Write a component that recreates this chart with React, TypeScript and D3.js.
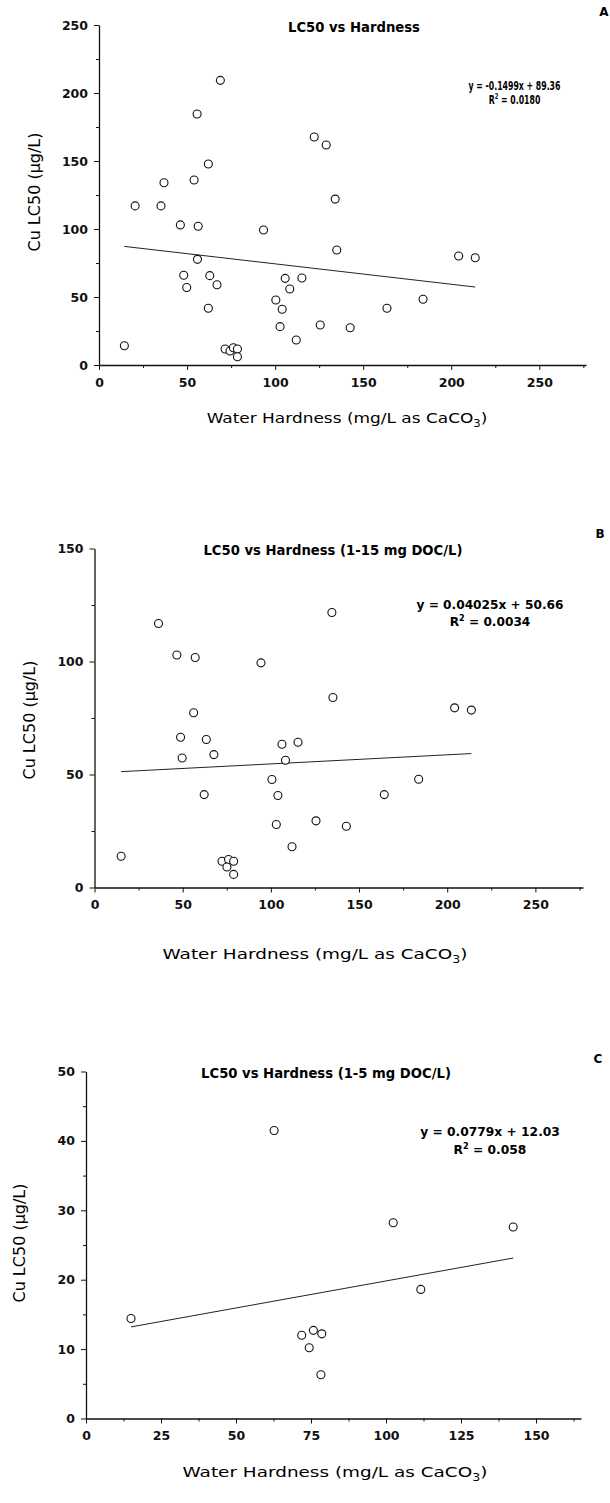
import React, { useEffect, useRef } from "react";
import * as d3 from "d3";

const width = 610;
const height = 1503;

// panel A: all tests
const hardnessA = [
  14.4, 20.5, 35.2, 36.9, 46.2, 48.1, 49.8, 54, 55.7, 56.3, 55.9, 62.1, 62.9,
  62.1, 67, 68.9, 71.6, 74.4, 76.3, 78.6, 78.6, 93.4, 100.4, 104, 102.8, 105.7,
  108.3, 112, 115.2, 122.2, 129, 134.1, 135, 125.6, 142.6, 163.5, 184, 204.2,
  213.6,
];
const lc50A = [
  14.2, 117, 117, 134, 103, 66, 57, 136, 184.6, 102, 77.7, 147.8, 65.7, 41.7,
  59, 209.3, 11.8, 10.3, 12.7, 11.8, 6.1, 99.3, 47.8, 41, 28.2, 63.7, 55.9,
  18.4, 64, 167.6, 161.8, 122, 84.6, 29.4, 27.4, 41.7, 48.3, 80.1, 78.9,
];

// panel B: 1-15 mg DOC/L
const hardnessB = [
  15.1, 36.3, 46.7, 57.1, 56.2, 48.8, 49.7, 63.4, 67.7, 62.2, 94.4, 72.3, 76,
  75.1, 78.9, 78.9, 100.6, 104, 103.1, 106.3, 108.3, 112, 115.4, 134.6, 135.2,
  204.2, 213.7, 183.8, 164.3, 125.6, 142.8,
];
const lc50B = [
  13.8, 116.8, 102.9, 101.8, 77.3, 66.5, 57.3, 65.5, 58.8, 41.1, 99.4, 11.6,
  12.4, 9.1, 11.6, 5.8, 47.8, 40.7, 27.9, 63.4, 56.3, 18, 64.3, 121.7, 84.1,
  79.5, 78.5, 47.9, 41.1, 29.5, 27.1,
];

// panel C: 1-5 mg DOC/L
const hardnessC = [15, 71.9, 75.8, 78.6, 74.4, 78.3, 62.7, 102.4, 111.6, 142.4];
const lc50C = [14.4, 12.0, 12.7, 12.2, 10.2, 6.3, 41.5, 28.2, 18.6, 27.6];

const titles = [
  "LC50 vs Hardness",
  "LC50 vs Hardness (1-15 mg DOC/L)",
  "LC50 vs Hardness (1-5 mg DOC/L)",
];
const letters = ["A", "B", "C"];
const slopes = [-0.1499, 0.04025, 0.0779];
const intercepts = [89.36, 50.66, 12.03];
const equations = [
  "y = -0.1499x + 89.36",
  "y = 0.04025x + 50.66",
  "y = 0.0779x + 12.03",
];
const r2Values = ["0.0180", "0.0034", "0.058"];

const xTicksAB = [0, 50, 100, 150, 200, 250];
const xTicksC = [0, 25, 50, 75, 100, 125, 150];
const yTicksA = [0, 50, 100, 150, 200, 250];
const yTicksB = [0, 50, 100, 150];
const yTicksC = [0, 10, 20, 30, 40, 50];

const yLabel = "Cu LC50 (µg/L)";

// where each panel sits on the page
const panels = [
  {
    xs: hardnessA, ys: lc50A, xTicks: xTicksAB, yTicks: yTicksA,
    xDomain: [0, 276.5], xRange: [99, 586], yDomain: [0, 250], yRange: [365, 25],
    title: [354, 32], letter: [604, 16], eq: [514.5, 90], eqW: 92, r2: [514.5, 104],
    yLab: [34, 192], xLab: [347, 423], xLabW: 281,
  },
  {
    xs: hardnessB, ys: lc50B, xTicks: xTicksAB, yTicks: yTicksB,
    xDomain: [0, 277], xRange: [94.5, 583], yDomain: [0, 150], yRange: [887.5, 548.5],
    title: [333, 555], letter: [600, 538], eq: [490, 609], eqW: 147, r2: [490, 626],
    yLab: [29, 720], xLab: [315, 959], xLabW: 305,
  },
  {
    xs: hardnessC, ys: lc50C, xTicks: xTicksC, yTicks: yTicksC,
    xDomain: [0, 165], xRange: [86, 581], yDomain: [0, 50], yRange: [1418.5, 1071.5],
    title: [326, 1078], letter: [598, 1063], eq: [490, 1136], eqW: 140, r2: [490, 1154],
    yLab: [19, 1243], xLab: [335, 1477], xLabW: 305,
  },
];

const font = "'DejaVu Sans', sans-serif";

// squeeze or stretch a text horizontally so it spans w pixels
function fitWidth(sel, cx, cy, w) {
  const len = sel.node().getComputedTextLength() || w;
  const k = w / len;
  sel.attr("transform", "translate(" + cx + "," + cy + ") scale(" + k + ",1)");
  return k;
}

function drawPanel(svg, p, i) {
  const x = d3.scaleLinear().domain(p.xDomain).range(p.xRange);
  const y = d3.scaleLinear().domain(p.yDomain).range(p.yRange);
  const g = svg.append("g");

  const xStep = p.xTicks[1] - p.xTicks[0];
  const yStep = p.yTicks[1] - p.yTicks[0];
  const xMinor = d3.range(xStep / 2, p.xDomain[1], xStep);
  const yMinor = d3.range(yStep / 2, p.yDomain[1], yStep);

  // minor ticks
  g.append("g")
    .attr("transform", "translate(0," + p.yRange[0] + ")")
    .call(d3.axisBottom(x).tickValues(xMinor).tickSize(3).tickFormat(() => ""))
    .call((a) => a.select(".domain").remove());
  g.append("g")
    .attr("transform", "translate(" + p.xRange[0] + ",0)")
    .call(d3.axisLeft(y).tickValues(yMinor).tickSize(3).tickFormat(() => ""))
    .call((a) => a.select(".domain").remove());

  // x axis
  const xa = g.append("g")
    .attr("transform", "translate(0," + p.yRange[0] + ")")
    .call(d3.axisBottom(x).tickValues(p.xTicks).tickSize(5).tickSizeOuter(0).tickPadding(8).tickFormat(d3.format("d")));
  // y axis
  const ya = g.append("g")
    .attr("transform", "translate(" + p.xRange[0] + ",0)")
    .call(d3.axisLeft(y).tickValues(p.yTicks).tickSize(5).tickSizeOuter(0).tickPadding(6).tickFormat(d3.format("d")));

  [xa, ya].forEach((a) => {
    a.selectAll("text")
      .style("font-family", font)
      .style("font-weight", "bold")
      .style("font-size", "12.5px")
      .style("fill", "#111");
    a.select(".domain").attr("stroke", "#111").attr("stroke-width", 1.3);
  });
  g.selectAll(".tick line").attr("stroke", "#111");

  // regression line
  const x0 = d3.min(p.xs);
  const x1 = d3.max(p.xs);
  g.append("path")
    .datum([x0, x1])
    .attr("fill", "none")
    .attr("stroke", "#222")
    .attr("stroke-width", 1)
    .attr("d", d3.line().x((d) => x(d)).y((d) => y(slopes[i] * d + intercepts[i])));

  // points
  g.append("g")
    .selectAll("circle")
    .data(p.xs.map((v, k) => [v, p.ys[k]]))
    .enter()
    .append("circle")
    .attr("cx", (d) => x(d[0]))
    .attr("cy", (d) => y(d[1]))
    .attr("r", 4)
    .attr("fill", "white")
    .attr("stroke", "#111")
    .attr("stroke-width", 1.1);

  // title
  g.append("text")
    .attr("x", p.title[0])
    .attr("y", p.title[1])
    .text(titles[i])
    .style("text-anchor", "middle")
    .style("font-family", font)
    .style("font-weight", "bold")
    .style("font-size", "13.2px");

  // panel letter
  g.append("text")
    .attr("x", p.letter[0])
    .attr("y", p.letter[1])
    .text(letters[i])
    .style("text-anchor", "middle")
    .style("font-family", font)
    .style("font-weight", "bold")
    .style("font-size", "12px");

  // equation and R2
  const eq = g.append("text")
    .text(equations[i])
    .style("text-anchor", "middle")
    .style("font-family", font)
    .style("font-weight", "bold")
    .style("font-size", "12px");
  const k = fitWidth(eq, p.eq[0], p.eq[1], p.eqW);
  const r2 = g.append("text")
    .attr("transform", "translate(" + p.r2[0] + "," + p.r2[1] + ") scale(" + k + ",1)")
    .style("text-anchor", "middle")
    .style("font-family", font)
    .style("font-weight", "bold")
    .style("font-size", "12px");
  r2.append("tspan").text("R");
  r2.append("tspan").attr("dy", -5).style("font-size", "8px").text("2");
  r2.append("tspan").attr("dy", 5).text(" = " + r2Values[i]);

  // axis titles
  g.append("text")
    .attr("transform", "translate(" + p.yLab[0] + "," + p.yLab[1] + ") rotate(-90)")
    .attr("dy", "0.35em")
    .text(yLabel)
    .style("text-anchor", "middle")
    .style("font-family", font)
    .style("font-size", "16px");

  const xl = g.append("text")
    .style("text-anchor", "middle")
    .style("font-family", font)
    .style("font-size", "14.5px");
  xl.append("tspan").text("Water Hardness (mg/L as CaCO");
  xl.append("tspan").attr("dy", 4).style("font-size", "10px").text("3");
  xl.append("tspan").attr("dy", -4).text(")");
  fitWidth(xl, p.xLab[0], p.xLab[1], p.xLabW);
}

export default function App() {
  const ref = useRef(null);

  useEffect(() => {
    const svg = d3.select(ref.current);
    svg.selectAll("*").remove();
    svg.append("rect").attr("width", width).attr("height", height).attr("fill", "white");
    panels.forEach((p, i) => drawPanel(svg, p, i));
  }, []);

  return (
    <svg
      ref={ref}
      width={width}
      height={height}
      style={{ position: "absolute", left: 0, top: 0 }}
    />
  );
}
